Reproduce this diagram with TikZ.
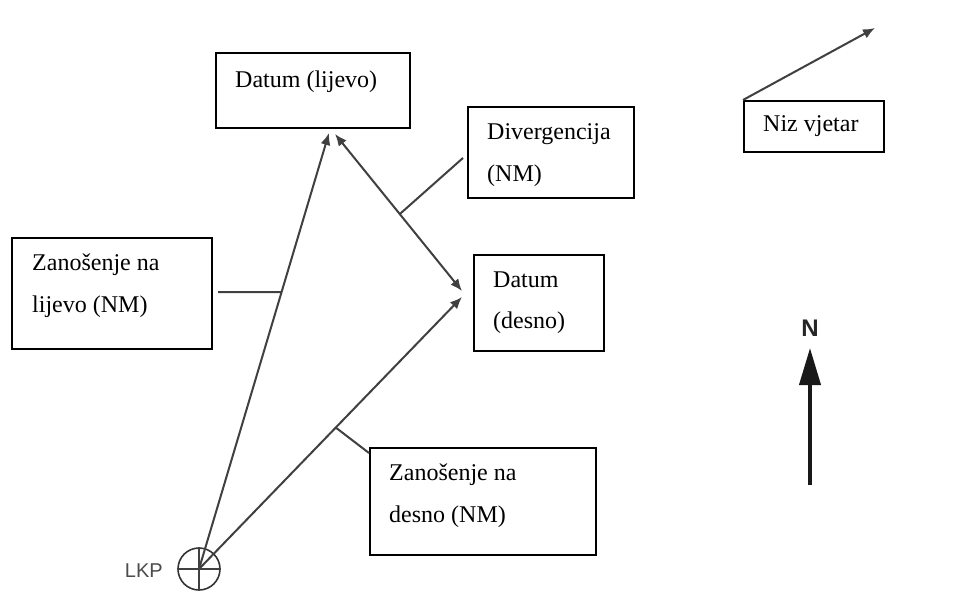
\documentclass[tikz,border=0pt]{standalone}
\usepackage{fontspec}
\setmainfont{Liberation Serif}
\newfontfamily\arialfont{Liberation Sans}
\usetikzlibrary{arrows.meta,calc}
\begin{document}
\begin{tikzpicture}[x=1pt,y=-1pt,
  box/.style={draw=black,line width=1.8pt,anchor=north west,inner sep=0pt},
  txt/.style={anchor=base west,inner sep=0pt,font=\fontsize{24}{28}\selectfont},
  conn/.style={draw=black!75,line width=2pt},
  tip/.style={-{Latex[length=12pt,width=10pt]}},
  dtip/.style={{Latex[length=12pt,width=10pt]}-{Latex[length=12pt,width=10pt]}},
]
\fill[white] (0,0) rectangle (970,615);
\useasboundingbox (0,0) rectangle (970,615);

% boxes
\node[box,minimum width=194pt,minimum height=75pt] (dl) at (215,52) {};
\node[box,minimum width=166pt,minimum height=91pt] (dv) at (467,106) {};
\node[box,minimum width=130pt,minimum height=96pt] (dr) at (473,254) {};
\node[box,minimum width=200pt,minimum height=111pt] (zl) at (11,237) {};
\node[box,minimum width=226pt,minimum height=107pt] (zd) at (369,447) {};
\node[box,minimum width=140pt,minimum height=51pt] (nv) at (743,100) {};

% texts
\node[txt] (tdl) at (235,88) {Datum (lijevo)};
\node[txt] (tdv1) at (487,140) {Divergencija};
\node[txt] (tdv2) at (487,182) {(NM)};
\node[txt] (tdr1) at (493,287) {Datum};
\node[txt] (tdr2) at (493,328) {(desno)};
\node[txt] (tzl1) at (32,270) {Zanošenje na};
\node[txt] (tzl2) at (32,312) {lijevo (NM)};
\node[txt] (tzd1) at (389,480) {Zanošenje na};
\node[txt] (tzd2) at (389,522) {desno (NM)};
\node[txt] (tnv) at (763,132) {Niz vjetar};

% LKP symbol
\node[circle,draw=black!80,line width=1.6pt,minimum size=42pt,inner sep=0pt] (lkp) at (199,569) {};
\draw[conn,line width=1.5pt] (lkp.north) -- (lkp.south);
\draw[conn,line width=1.5pt] (lkp.west) -- (lkp.east);
\node[anchor=east,inner sep=0pt,font=\arialfont\fontsize{20}{24}\selectfont,text=black!70] (lkpl) at (163,571) {LKP};

% arrow ends
\coordinate (tl) at (329,133);
\coordinate (tr) at (462,297);
\coordinate (dtop) at (335,134);
\coordinate (dbot) at (462,291);
\coordinate (zlend) at (218,292);
\coordinate (nwend) at (875,28);

\draw[conn,tip] (lkp.center) -- (tl);
\draw[conn,tip] (lkp.center) -- (tr);
\draw[conn,dtip] (dtop) -- (dbot);

% label connectors
\draw[conn] (zlend) -- ($(lkp.center)!0.635!(tl)$);
\draw[conn] ($(dv.north west)!0.56!(dv.south west)+(-4,0)$) -- ($(dtop)!0.51!(dbot)$);
\draw[conn] ($(zd.north west)+(0,6)$) -- ($(lkp.center)!0.52!(tr)$);

% wind arrow
\draw[conn,tip] (nv.north west) -- (nwend);

% north arrow
\node[inner sep=0pt,font=\arialfont\bfseries\fontsize{24}{26}\selectfont,text=black!85] (n) at (810,328) {N};
\coordinate (nbase) at (810,485);
\coordinate (ntip) at (810,348);
\draw[line width=4pt,black!90,-{Triangle[length=37pt,width=21pt]}] (nbase) -- (ntip);
\end{tikzpicture}
\end{document}
